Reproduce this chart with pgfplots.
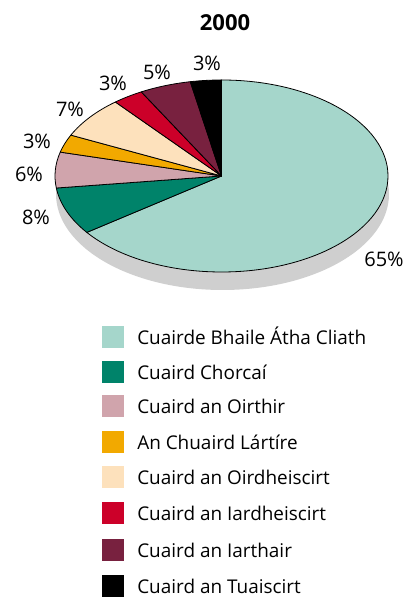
\documentclass[border=0pt]{standalone}
\usepackage{fontspec}
\setmainfont{Open Sans}
\usepackage{pgfplots}
\pgfplotsset{compat=1.18}
\definecolor{cA}{HTML}{A5D6CB}
\definecolor{cB}{HTML}{00836A}
\definecolor{cC}{HTML}{D0A4AC}
\definecolor{cD}{HTML}{F2A900}
\definecolor{cE}{HTML}{FDE1BC}
\definecolor{cF}{HTML}{CC0029}
\definecolor{cG}{HTML}{78213F}
\definecolor{cH}{HTML}{000000}
\definecolor{shadowgray}{HTML}{CFCFCF}
\begin{document}
\begin{tikzpicture}
\begin{axis}[hide axis, scale only axis, width=307.5pt, height=448.5pt,
  xmin=0, xmax=410, ymin=0, ymax=598, clip=false]
\path (axis cs:0,0) rectangle (axis cs:410,598);
% shadow
\fill[shadowgray] (axis cs:222.5,404) ellipse [x radius=124.875pt, y radius=72pt];
% slices: value/colour, clockwise from top
\gdef\s{90}
\foreach \v/\c in {65/cA, 8/cB, 6/cC, 3/cD, 7/cE, 3/cF, 5/cG, 3/cH} {
  \pgfmathsetmacro\e{\s-3.6*\v}
  \edef\temp{\noexpand\filldraw[fill=\c, draw=black, line width=0.6pt, line join=round]
    (axis cs:221.5,422) -- ++(\s:124.875pt and 72pt)
    arc[start angle=\s, end angle=\e, x radius=124.875pt, y radius=72pt] -- cycle;}
  \temp
  \xdef\s{\e}
}
% percentage labels
\tikzset{pct/.style={font=\fontsize{15}{17}\selectfont, inner sep=0pt}}
\node[pct] at (axis cs:384,339) {65\%};
\node[pct] at (axis cs:36,381) {8\%};
\node[pct] at (axis cs:29,424) {6\%};
\node[pct] at (axis cs:37,457) {3\%};
\node[pct] at (axis cs:70,489) {7\%};
\node[pct] at (axis cs:113,515) {3\%};
\node[pct] at (axis cs:157,526) {5\%};
\node[pct] at (axis cs:207,535) {3\%};
% title
\node[font=\fontsize{16.5}{19}\selectfont\bfseries, inner sep=0pt] at (axis cs:225,575) {2000};
% legend
\foreach \y/\c/\t in {337/cA/Cuairde Bhaile Átha Cliath, 372/cB/Cuaird Chorcaí,
  406/cC/Cuaird an Oirthir, 442/cD/An Chuaird Lártíre, 477/cE/Cuaird an Oirdheiscirt,
  513/cF/Cuaird an Iardheiscirt, 550/cG/Cuaird an Iarthair, 586/cH/Cuaird an Tuaiscirt} {
  \edef\temp{\noexpand\fill[\c] (axis cs:102,\the\numexpr598-\y-11\relax) rectangle (axis cs:124,\the\numexpr598-\y+11\relax);
  \noexpand\node[anchor=base west, inner sep=0pt, font=\noexpand\fontsize{14.2}{16}\noexpand\selectfont] at (axis cs:137,\the\numexpr598-\y-8\relax) {\t};}
  \temp
}
\end{axis}
\end{tikzpicture}
\end{document}
